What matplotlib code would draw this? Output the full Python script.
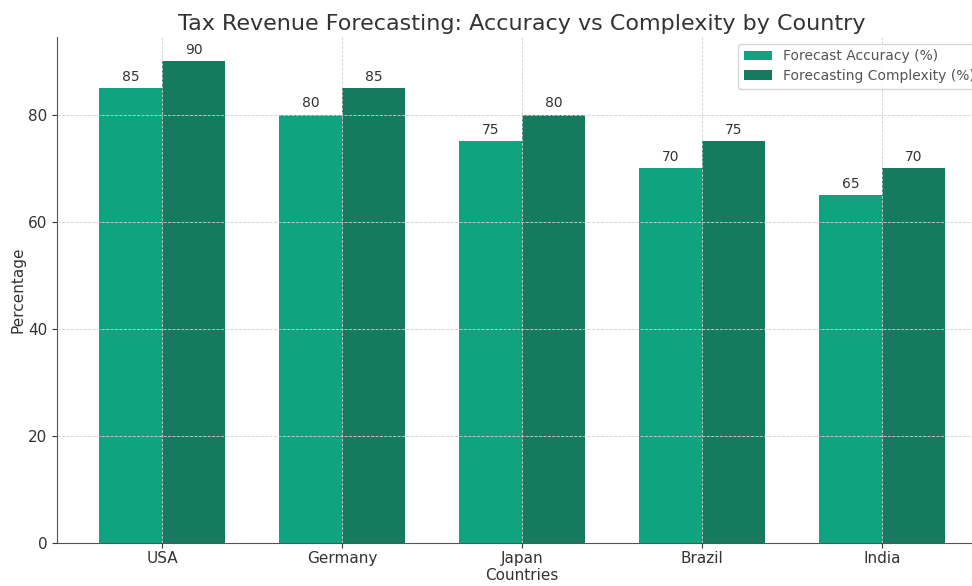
import matplotlib
matplotlib.use("Agg")
import matplotlib.pyplot as plt
import numpy as np

countries = ["USA", "Germany", "Japan", "Brazil", "India"]
forecast_accuracy = [85, 80, 75, 70, 65]
forecasting_complexity = [90, 85, 80, 75, 70]

text_color = "#333333"
plt.rcParams["text.color"] = text_color
plt.rcParams["axes.labelcolor"] = text_color
plt.rcParams["xtick.color"] = text_color
plt.rcParams["ytick.color"] = text_color

fig = plt.figure(figsize=(9.72, 5.86), dpi=100)
# the source image is cropped on the right, so the axes run past the figure edge
ax = fig.add_axes([0.0586, 0.0734, 0.957, 0.8635])

x = np.arange(len(countries))
width = 0.35

bars1 = ax.bar(x - width / 2, forecast_accuracy, width, label="Forecast Accuracy (%)", color="#10a37f")
bars2 = ax.bar(x + width / 2, forecasting_complexity, width, label="Forecasting Complexity (%)", color="#167a5f")

ax.bar_label(bars1, padding=3, fontsize=10, color=text_color)
ax.bar_label(bars2, padding=3, fontsize=10, color=text_color)

ax.set_title("Tax Revenue Forecasting: Accuracy vs Complexity by Country", fontsize=16, color=text_color, pad=5)
ax.set_xlabel("Countries", fontsize=11, labelpad=2)
ax.set_ylabel("Percentage", fontsize=11, labelpad=2)
ax.set_xticks(x)
ax.set_xticklabels(countries)
ax.tick_params(labelsize=11)
ax.tick_params(axis="x", pad=2)

ax.grid(True, linestyle="--", linewidth=0.6, color="#d0d0d0")
ax.set_axisbelow(False)
ax.spines["top"].set_visible(False)
ax.spines["right"].set_visible(False)
ax.spines["left"].set_color("#555555")
ax.spines["bottom"].set_color("#555555")

leg = ax.legend(loc="upper right", fontsize=10, labelspacing=0.4)
for t in leg.get_texts():
    t.set_color("#555555")

fig.savefig("out.png", dpi=100)
